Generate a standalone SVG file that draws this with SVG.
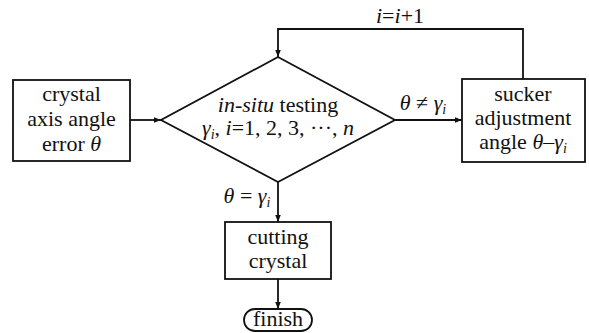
<svg xmlns="http://www.w3.org/2000/svg" width="589" height="333" viewBox="0 0 589 333">
  <style>
    .shape { fill: #fff; stroke: #111; stroke-width: 1.8; }
    .line { fill: none; stroke: #111; stroke-width: 1.8; }
    .lbl { font-family: "Liberation Serif", serif; font-size: 22px; fill: #111; text-anchor: middle; }
    .it { font-style: italic; }
    .sub { font-size: 14px; font-style: italic; }
  </style>
  <defs>
    <marker id="arrow" viewBox="0 0 10 10" refX="10" refY="5" markerWidth="7" markerHeight="7" markerUnits="userSpaceOnUse" orient="auto">
      <path d="M0,1 L10,5 L0,9 Z" fill="#111"/>
    </marker>
  </defs>

  <!-- connectors and their labels -->
  <g id="connectors">
    <line class="line" x1="130" y1="120" x2="161" y2="120" marker-end="url(#arrow)"/>
    <line class="line" x1="395" y1="120" x2="462" y2="120" marker-end="url(#arrow)"/>
    <polyline class="line" points="523,79 523,29 278,29 278,57" marker-end="url(#arrow)"/>
    <line class="line" x1="278" y1="182" x2="278" y2="222" marker-end="url(#arrow)"/>
    <line class="line" x1="278" y1="279" x2="278" y2="309" marker-end="url(#arrow)"/>
    <text class="lbl" x="400" y="23"><tspan class="it">i</tspan>=<tspan class="it">i</tspan>+1</text>
    <text class="lbl" x="423" y="110"><tspan class="it">θ</tspan> ≠ <tspan class="it">γ</tspan><tspan class="sub" dy="4">i</tspan></text>
    <text class="lbl" x="247" y="203"><tspan class="it">θ</tspan> = <tspan class="it">γ</tspan><tspan class="sub" dy="4">i</tspan></text>
  </g>

  <!-- input node -->
  <g id="error">
    <rect class="shape" x="13" y="80" width="117" height="81"/>
    <text class="lbl" x="71.5" y="101">crystal</text>
    <text class="lbl" x="71.5" y="126">axis angle</text>
    <text class="lbl" x="71.5" y="151">error <tspan class="it">θ</tspan></text>
  </g>

  <!-- decision node -->
  <g id="testing">
    <polygon class="shape" points="278,57 395,120 278,182 161,120"/>
    <text class="lbl" x="278" y="112"><tspan class="it">in-situ</tspan> testing</text>
    <text class="lbl" x="278" y="135"><tspan class="it">γ</tspan><tspan class="sub" dy="4">i</tspan><tspan dy="-4">, </tspan><tspan class="it">i</tspan>=1, 2, 3, ···, <tspan class="it">n</tspan></text>
  </g>

  <!-- adjustment node -->
  <g id="adjust">
    <rect class="shape" x="462" y="79" width="123" height="83"/>
    <text class="lbl" x="523" y="101">sucker</text>
    <text class="lbl" x="523" y="125">adjustment</text>
    <text class="lbl" x="523" y="149">angle <tspan class="it">θ</tspan>–<tspan class="it">γ</tspan><tspan class="sub" dy="4">i</tspan></text>
  </g>

  <!-- cutting node -->
  <g id="cutting">
    <rect class="shape" x="225" y="222" width="106" height="57"/>
    <text class="lbl" x="278" y="244">cutting</text>
    <text class="lbl" x="278" y="268">crystal</text>
  </g>

  <!-- terminal node -->
  <g id="finish">
    <rect class="shape" x="244" y="309" width="68" height="22" rx="11" ry="11"/>
    <text class="lbl" x="278" y="326">finish</text>
  </g>
</svg>
